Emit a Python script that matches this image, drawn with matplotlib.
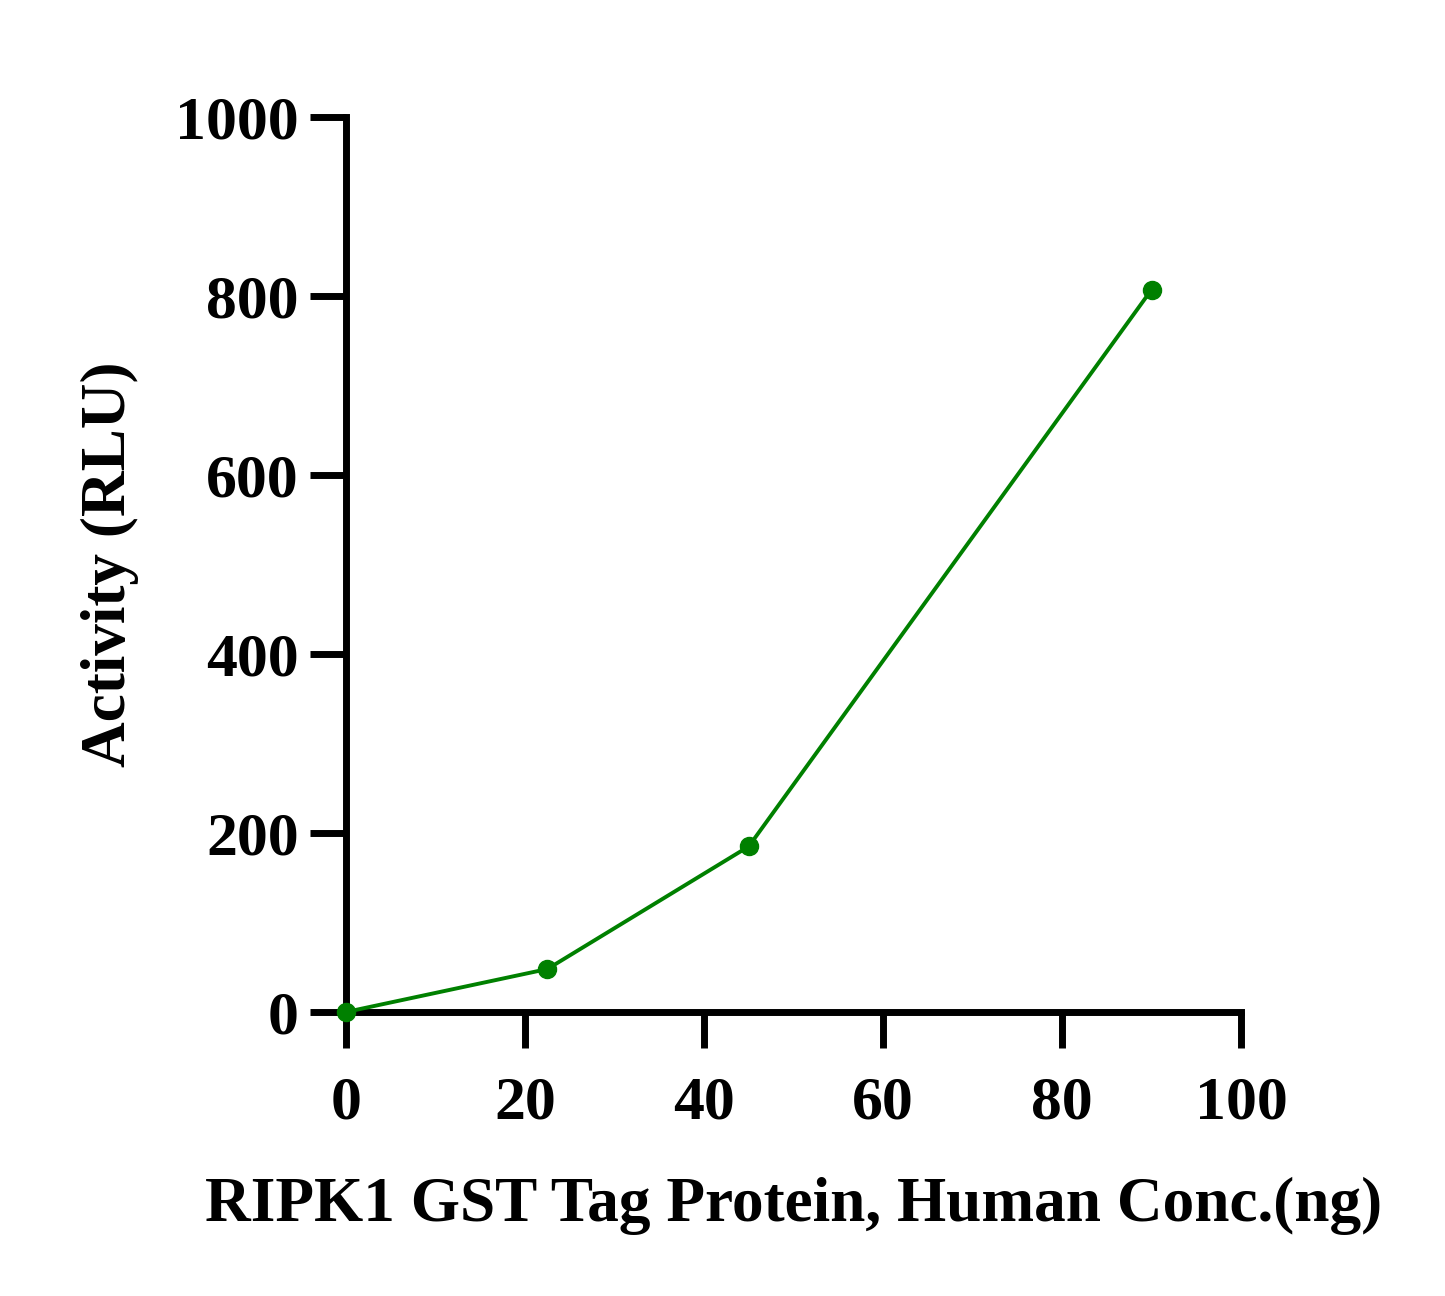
import matplotlib
matplotlib.use("Agg")
import matplotlib.pyplot as plt

conc = [0, 22.5, 45, 90]
activity = [0, 48, 185, 807]
xticks = [0, 20, 40, 60, 80, 100]
yticks = [0, 200, 400, 600, 800, 1000]

plt.rcParams['font.family'] = ['Liberation Serif', 'DejaVu Serif']
plt.rcParams['font.weight'] = 'bold'

fig = plt.figure(figsize=(14.45, 12.96), dpi=100)
ax = fig.add_axes([346/1445, 1 - 1012/1296, (1241-346)/1445, (1012-117)/1296])

ax.plot(conc, activity, color='#008000', linewidth=2.8, marker='o', markersize=13, clip_on=False, zorder=5)

ax.set_xlim(0, 100)
ax.set_ylim(0, 1000)
ax.set_xticks(xticks)
ax.set_yticks(yticks)
ax.set_xticklabels([str(t) for t in xticks], fontsize=44.5, fontweight='bold')
ax.set_yticklabels([str(t) for t in yticks], fontsize=44.5, fontweight='bold')

for s in ['top', 'right']:
    ax.spines[s].set_visible(False)
for s in ['left', 'bottom']:
    ax.spines[s].set_linewidth(5)
ax.tick_params(axis='both', direction='out', length=26, width=5, color='black')
ax.tick_params(axis='y', pad=8)
ax.tick_params(axis='x', pad=20)

ax.set_xlabel('RIPK1 GST Tag Protein, Human Conc.(ng)', fontsize=45.5, fontweight='bold', labelpad=32)
ax.set_ylabel('Activity (RLU)', fontsize=45.5, fontweight='bold', labelpad=26)

fig.savefig('out.png', dpi=100)
